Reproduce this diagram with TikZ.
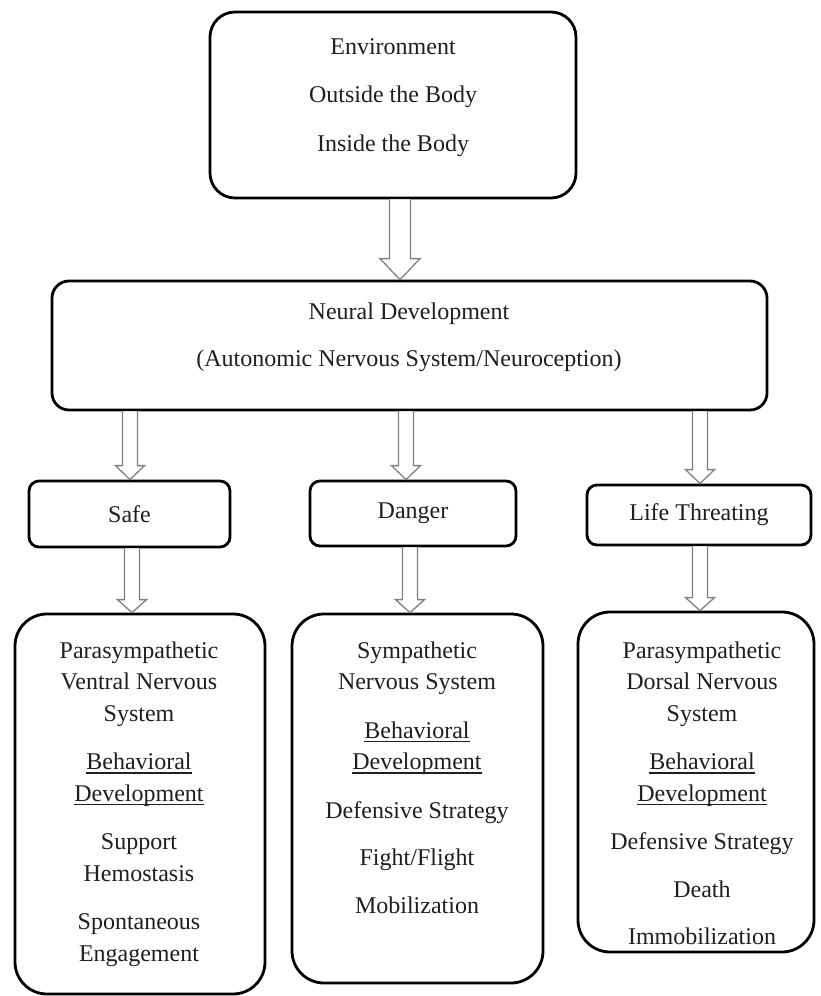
\documentclass[tikz,border=0pt]{standalone}
\usepackage{fontspec}
\setmainfont{Liberation Serif}
\usetikzlibrary{calc}
\newcommand\myul[1]{\setbox0=\hbox{#1}\rlap{\rule[-4pt]{\wd0}{1.1pt}}\box0}
\newcommand\hollowarrow[5]{%
  \draw[harrow] ($(#1)+(-#3,0)$) -- ($(#2)+(-#3,-#5)$) -- ($(#2)+(-#4,-#5)$) -- (#2)
    -- ($(#2)+(#4,-#5)$) -- ($(#2)+(#3,-#5)$) -- ($(#1)+(#3,0)$);}
\tikzset{
  box/.style={draw=black, line width=2.8pt, fill=white, inner sep=0pt,
    font=\fontsize{24}{31.5}\selectfont, text=black!88},
  txt/.style={inner sep=0pt, outer sep=0pt, align=center, anchor=north,
    font=\fontsize{24}{31.5}\selectfont, text=black!88},
  harrow/.style={draw=black!50, line width=1.3pt, fill=white, line join=miter},
}
\begin{document}
\begin{tikzpicture}[x=1pt,y=-1pt]
\useasboundingbox (0,0) rectangle (820,996);
% boxes
\node[box, rounded corners=25pt, minimum width=366pt, minimum height=186pt] (env) at (393,105) {};
\node[box, rounded corners=17pt, minimum width=715pt, minimum height=129pt] (neu) at (409.5,345.5) {};
\node[box, rounded corners=10pt, minimum width=201pt, minimum height=66pt] (safe) at (129.5,514) {Safe};
\node[box, rounded corners=10pt, minimum width=206pt, minimum height=65pt] (danger) at (413,513.5) {Danger};
\node[box, rounded corners=10pt, minimum width=224pt, minimum height=60pt] (life) at (699,515) {Life Threating};
\node[box, rounded corners=32pt, minimum width=250pt, minimum height=380pt] (lb) at (140,804) {};
\node[box, rounded corners=32pt, minimum width=251pt, minimum height=369pt] (mb) at (417.5,798.5) {};
\node[box, rounded corners=32pt, minimum width=236pt, minimum height=340pt] (rb) at (696,782) {};
% texts
\node[txt, font=\fontsize{24}{48.5}\selectfont] (envt) at (393,36)
  {\rule{0pt}{18pt}Environment\\Outside the Body\\Inside the Body};
\node[txt, font=\fontsize{24}{47}\selectfont] (neut) at (409,301)
  {\rule{0pt}{18pt}Neural Development\\(Autonomic Nervous System/Neuroception)};
\node[txt] (lbt) at (139,640)
  {\rule{0pt}{18pt}Parasympathetic\\Ventral Nervous\\System\\[17pt]\myul{Behavioral}\\\myul{Development}\\[17pt]Support\\Hemostasis\\[17pt]Spontaneous\\Engagement};
\node[txt] (mbt) at (417,640)
  {\rule{0pt}{18pt}Sympathetic\\Nervous System\\[17pt]\myul{Behavioral}\\\myul{Development}\\[17pt]Defensive Strategy\\[16pt]Fight/Flight\\[16pt]Mobilization};
\node[txt] (rbt) at (702,640)
  {\rule{0pt}{18pt}Parasympathetic\\Dorsal Nervous\\System\\[17pt]\myul{Behavioral}\\\myul{Development}\\[17pt]Defensive Strategy\\[16pt]Death\\[16pt]Immobilization};
% arrow end points
\coordinate (a0s) at (400,0 |- env.south);   \coordinate (a0e) at (400,0 |- neu.north);
\coordinate (a1s) at (130,0 |- neu.south);   \coordinate (a1e) at (130,0 |- safe.north);
\coordinate (a2s) at (406,0 |- neu.south);   \coordinate (a2e) at (406,0 |- danger.north);
\coordinate (a3s) at (700,0 |- neu.south);   \coordinate (a3e) at (700,0 |- life.north);
\coordinate (b1s) at (132,0 |- safe.south);  \coordinate (b1e) at (132,0 |- lb.north);
\coordinate (b2s) at (410,0 |- danger.south);\coordinate (b2e) at (410,0 |- mb.north);
\coordinate (b3s) at (700,0 |- life.south);  \coordinate (b3e) at (700,0 |- rb.north);
% arrows
\hollowarrow{a0s}{a0e}{10.5}{20}{21}
\hollowarrow{a1s}{a1e}{7.5}{14.5}{14}
\hollowarrow{a2s}{a2e}{7.5}{14.5}{14}
\hollowarrow{a3s}{a3e}{7.5}{14.5}{14}
\hollowarrow{b1s}{b1e}{7.5}{14.5}{13}
\hollowarrow{b2s}{b2e}{7.5}{14.5}{13}
\hollowarrow{b3s}{b3e}{7.5}{14.5}{13}
\end{tikzpicture}
\end{document}
